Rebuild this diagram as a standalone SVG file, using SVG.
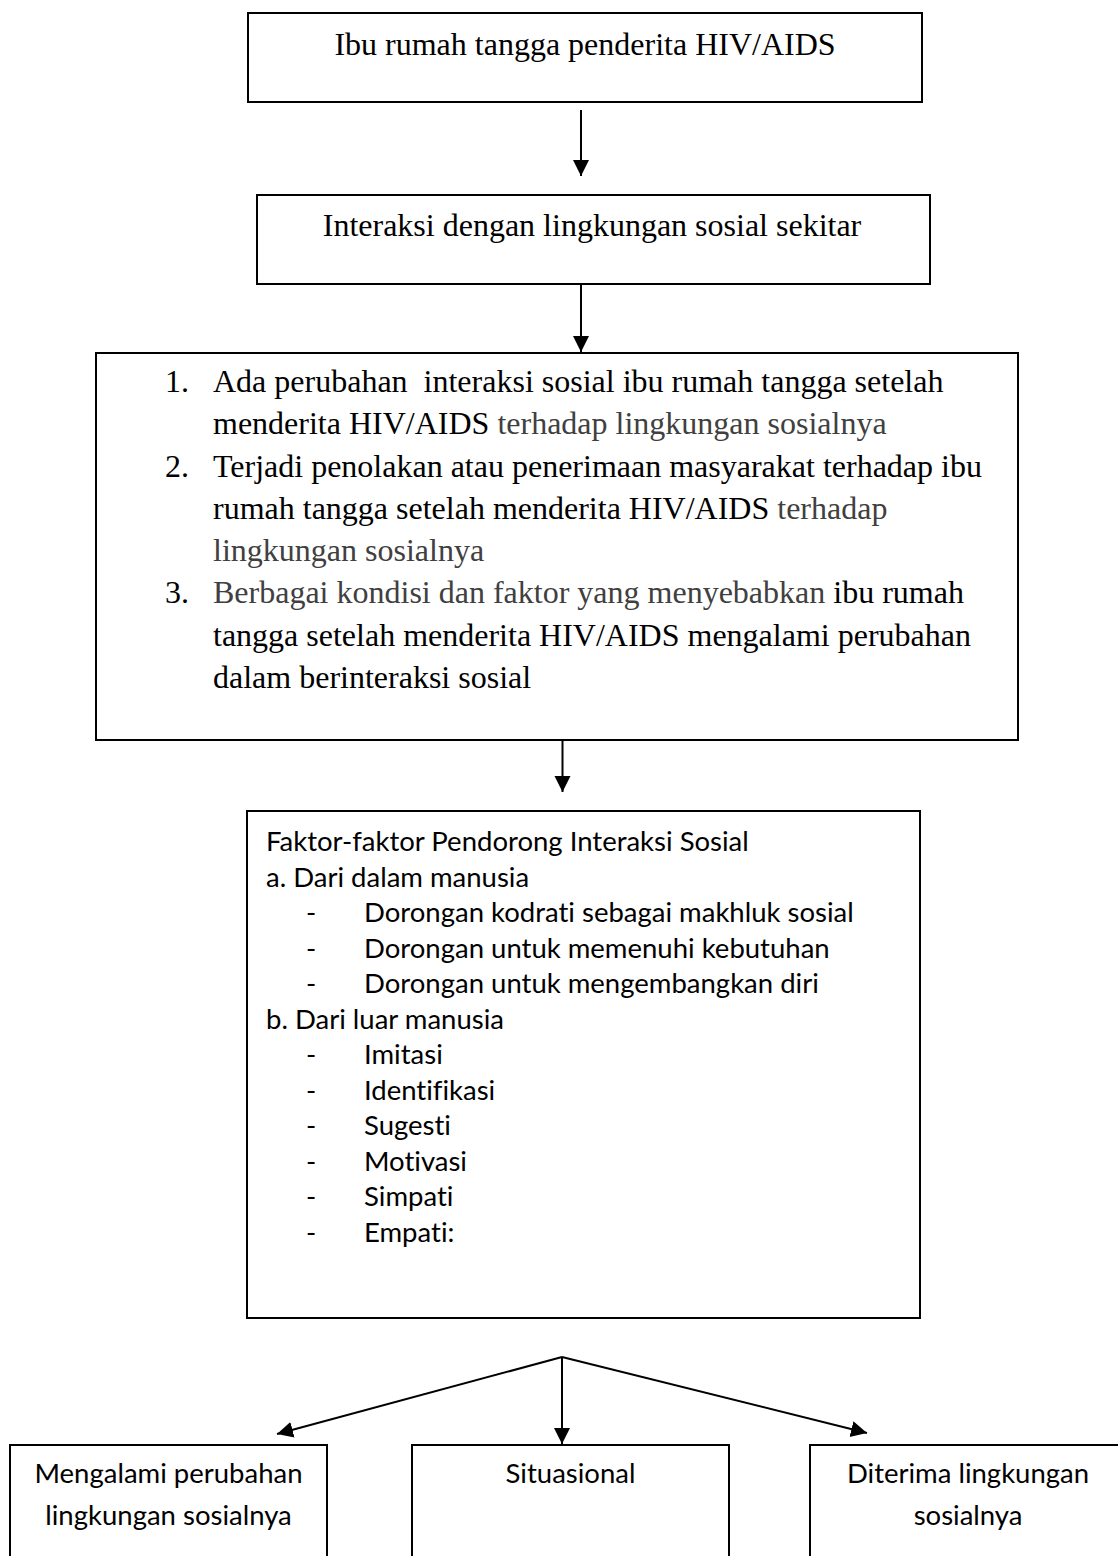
<svg xmlns="http://www.w3.org/2000/svg" width="1118" height="1556" viewBox="0 0 1118 1556">
<style>
.box{fill:#fff;stroke:#000;stroke-width:2}
.tnr{font-family:"Liberation Serif","Times New Roman",serif;font-size:32px;fill:#000}
.cal{font-family:Lato,"Noto Sans",sans-serif;font-size:27.5px;fill:#000;font-variant-ligatures:none}
.gray{fill:#404040}
.conn{stroke:#000;stroke-width:2;fill:none;marker-end:url(#ah)}
</style>
<defs>
<marker id="ah" markerUnits="userSpaceOnUse" markerWidth="17" markerHeight="17" refX="16" refY="8" orient="auto">
<path d="M0,0 L16,8 L0,16 z" fill="#000"/>
</marker>
</defs>
<rect width="1118" height="1556" fill="#fff"/>
<g id="connectors">
<line class="conn" x1="581" y1="110" x2="581" y2="176"/>
<line class="conn" x1="581" y1="285" x2="581" y2="352"/>
<line class="conn" x1="562.5" y1="727" x2="562.5" y2="792"/>
<line class="conn" x1="562" y1="1357" x2="277" y2="1434"/>
<line class="conn" x1="562" y1="1357" x2="562" y2="1444"/>
<line class="conn" x1="562" y1="1357" x2="867" y2="1433"/>
</g>
<g id="node1">
<rect class="box" x="248" y="13" width="674" height="89"/>
<text class="tnr" x="585" y="55" text-anchor="middle">Ibu rumah tangga penderita HIV/AIDS</text>
</g>
<g id="node2">
<rect class="box" x="257" y="195" width="673" height="89"/>
<text class="tnr" x="592" y="236" text-anchor="middle">Interaksi dengan lingkungan sosial sekitar</text>
</g>
<g id="node3">
<rect class="box" x="96" y="353" width="922" height="387"/>
<text class="tnr" x="165" y="392">1.</text>
<text class="tnr" x="213" y="392" style="white-space:pre">Ada perubahan  interaksi sosial ibu rumah tangga setelah</text>
<text class="tnr" x="213" y="434">menderita HIV/AIDS <tspan class="gray">terhadap lingkungan sosialnya</tspan></text>
<text class="tnr" x="165" y="477">2.</text>
<text class="tnr" x="213" y="477">Terjadi penolakan atau penerimaan masyarakat terhadap ibu</text>
<text class="tnr" x="213" y="519">rumah tangga setelah menderita HIV/AIDS <tspan class="gray">terhadap</tspan></text>
<text class="tnr gray" x="213" y="561">lingkungan sosialnya</text>
<text class="tnr" x="165" y="603">3.</text>
<text class="tnr" x="213" y="603"><tspan class="gray">Berbagai kondisi dan faktor yang menyebabkan</tspan> ibu rumah</text>
<text class="tnr" x="213" y="646">tangga setelah menderita HIV/AIDS mengalami perubahan</text>
<text class="tnr" x="213" y="688">dalam berinteraksi sosial</text>
</g>
<g id="node4">
<rect class="box" x="247" y="811" width="673" height="507"/>
<text class="cal" x="266" y="851">Faktor-faktor Pendorong Interaksi Sosial</text>
<text class="cal" x="266" y="886.5">a. Dari dalam manusia</text>
<text class="cal" x="306" y="922">-</text><text class="cal" x="364" y="922">Dorongan kodrati sebagai makhluk sosial</text>
<text class="cal" x="306" y="957.5">-</text><text class="cal" x="364" y="957.5">Dorongan untuk memenuhi kebutuhan</text>
<text class="cal" x="306" y="993">-</text><text class="cal" x="364" y="993">Dorongan untuk mengembangkan diri</text>
<text class="cal" x="266" y="1028.5">b. Dari luar manusia</text>
<text class="cal" x="306" y="1064">-</text><text class="cal" x="364" y="1064">Imitasi</text>
<text class="cal" x="306" y="1099.5">-</text><text class="cal" x="364" y="1099.5">Identifikasi</text>
<text class="cal" x="306" y="1135">-</text><text class="cal" x="364" y="1135">Sugesti</text>
<text class="cal" x="306" y="1170.5">-</text><text class="cal" x="364" y="1170.5">Motivasi</text>
<text class="cal" x="306" y="1206">-</text><text class="cal" x="364" y="1206">Simpati</text>
<text class="cal" x="306" y="1241.5">-</text><text class="cal" x="364" y="1241.5">Empati:</text>
</g>
<g id="node5">
<rect class="box" x="10" y="1445" width="317" height="130"/>
<text class="cal" x="168.5" y="1483" text-anchor="middle">Mengalami perubahan</text>
<text class="cal" x="168.5" y="1525" text-anchor="middle">lingkungan sosialnya</text>
</g>
<g id="node6">
<rect class="box" x="412" y="1445" width="317" height="130"/>
<text class="cal" x="570.5" y="1483" text-anchor="middle">Situasional</text>
</g>
<g id="node7">
<rect class="box" x="810" y="1445" width="330" height="130"/>
<text class="cal" x="968" y="1483" text-anchor="middle">Diterima lingkungan</text>
<text class="cal" x="968" y="1525" text-anchor="middle">sosialnya</text>
</g>
</svg>
